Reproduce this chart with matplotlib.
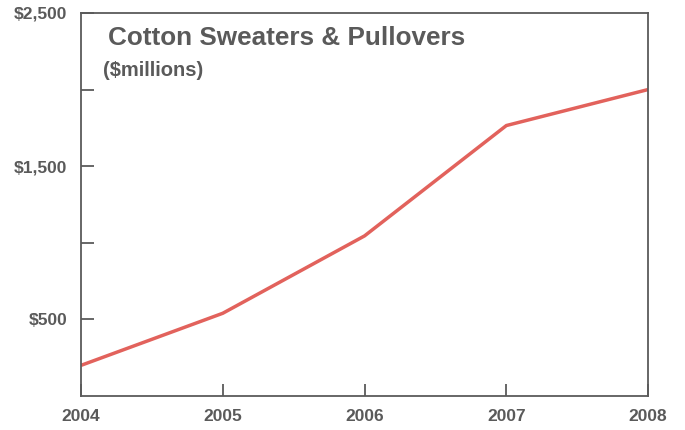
import matplotlib
matplotlib.use('Agg')
import matplotlib.pyplot as plt

years = [2004, 2005, 2006, 2007, 2008]
sales = [200, 540, 1045, 1765, 2000]

ytick_vals = [500, 1000, 1500, 2000, 2500]
ytick_labels = ['$500', '', '$1,500', '', '$2,500']

gray = '#5a5a5a'
plt.rcParams['font.family'] = ['Liberation Sans', 'DejaVu Sans']

fig = plt.figure(figsize=(6.85, 4.3), dpi=100)
ax = fig.add_axes([0.1182, 0.079, 0.828, 0.891])

ax.plot(years, sales, color='#e2625c', linewidth=2.5, solid_capstyle='butt')

ax.set_xlim(2004, 2008)
ax.set_ylim(0, 2500)
ax.set_xticks(years)
ax.set_xticklabels([str(y) for y in years])
ax.set_yticks(ytick_vals)
ax.set_yticklabels(ytick_labels)

ax.tick_params(direction='in', length=9, width=1.3, color=gray,
               labelcolor=gray, labelsize=12.5)
ax.tick_params(axis='x', pad=9)
ax.tick_params(axis='y', pad=10)
for lbl in ax.get_xticklabels() + ax.get_yticklabels():
    lbl.set_fontweight('bold')

for s in ax.spines.values():
    s.set_color(gray)
    s.set_linewidth(1.3)

ax.text(0.048, 0.965, 'Cotton Sweaters & Pullovers', transform=ax.transAxes,
        fontsize=18.8, fontweight='bold', color=gray, va='top', ha='left')
ax.text(0.038, 0.875, '($millions)', transform=ax.transAxes,
        fontsize=14.5, fontweight='bold', color=gray, va='top', ha='left')

fig.savefig('out.png', dpi=100)
